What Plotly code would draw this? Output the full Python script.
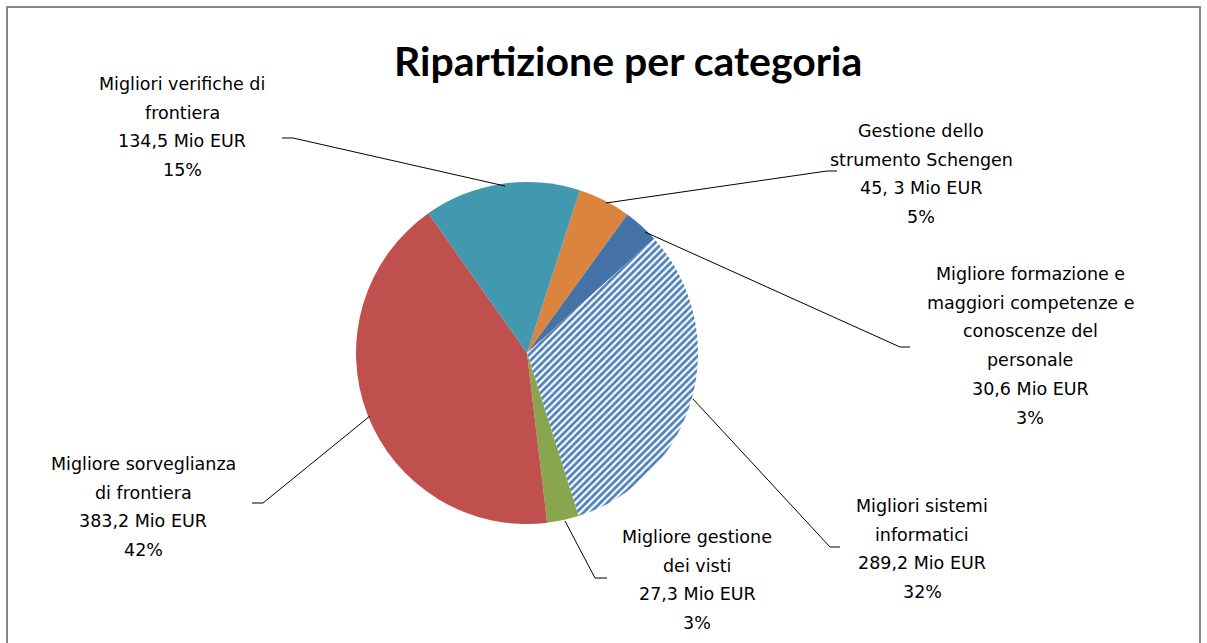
import plotly.graph_objects as go

W, H = 1207, 643

# ── Data ──────────────────────────────────────────────────────────────
categories = [
    ["Gestione dello", "strumento Schengen"],
    ["Migliore formazione e", "maggiori competenze e", "conoscenze del", "personale"],
    ["Migliori sistemi", "informatici"],
    ["Migliore gestione", "dei visti"],
    ["Migliore sorveglianza", "di frontiera"],
    ["Migliori verifiche di", "frontiera"],
]
values = [45.3, 30.6, 289.2, 27.3, 383.2, 134.5]
value_labels = ["45, 3 Mio EUR", "30,6 Mio EUR", "289,2 Mio EUR",
                "27,3 Mio EUR", "383,2 Mio EUR", "134,5 Mio EUR"]
colors = ["#DB843D", "#4572A7", "#4F81BD", "#89A54E", "#C0504D", "#4198AF"]
patterns = ["", "", "/", "", "", ""]

# label placement (pixel centre of first line) and leader lines (pixels)
label_pos = [(921, 131), (1030, 274), (922, 506), (697, 537), (143, 464), (182, 84)]
leaders = [
    [(606, 203), (827, 171), (837, 171)],
    [(645, 232), (900, 347), (910, 347)],
    [(693, 399), (830, 547), (840, 547)],
    [(565, 521), (595, 578), (607, 578)],
    [(370, 416), (263, 503), (252, 503)],
    [(505, 186), (293, 138), (282, 138)],
]
LINE_STEP = 28.7


def px(x):
    return x / W


def py(y):
    return 1 - y / H


total = sum(values)

fig = go.Figure(go.Pie(
    labels=[" ".join(c) for c in categories],
    values=values,
    sort=False,
    direction="clockwise",
    rotation=18,
    textinfo="none",
    hoverinfo="label+value+percent",
    marker=dict(
        colors=colors,
        line=dict(width=0),
        pattern=dict(shape=patterns, fgcolor="#4F81BD", bgcolor="white",
                     size=5, solidity=0.55),
    ),
    domain=dict(x=[px(356), px(698)], y=[py(524), py(182)]),
    showlegend=False,
))

annotations = []
for cat, val, vlab, (cx, cy) in zip(categories, values, value_labels, label_pos):
    lines = cat + [vlab, f"{round(val / total * 100)}%"]
    for i, line in enumerate(lines):
        annotations.append(dict(
            x=px(cx), y=py(cy + i * LINE_STEP), xref="paper", yref="paper",
            text=line, showarrow=False, xanchor="center", yanchor="middle",
            font=dict(family="DejaVu Sans", size=17.5, color="#000000"),
        ))

annotations.append(dict(
    x=px(628), y=py(60), xref="paper", yref="paper",
    text="<b>Ripartizione per categoria</b>", showarrow=False,
    xanchor="center", yanchor="middle",
    font=dict(family="Lato", size=41, color="#000000"),
))

shapes = [dict(
    type="rect", xref="paper", yref="paper",
    x0=px(7), x1=px(1200), y0=py(7), y1=py(660),
    line=dict(color="#868686", width=2),
)]
for pts in leaders:
    path = "M " + " L ".join(f"{px(x)},{py(y)}" for x, y in pts)
    shapes.append(dict(type="path", xref="paper", yref="paper", path=path,
                       line=dict(color="#000000", width=1)))

fig.update_layout(
    width=W, height=H,
    margin=dict(l=0, r=0, t=0, b=0),
    paper_bgcolor="white",
    plot_bgcolor="white",
    annotations=annotations,
    shapes=shapes,
)

fig.write_html(
    "out.html",
    config={"displayModeBar": False},
    post_script="document.body.style.margin='0';document.body.style.overflow='hidden';",
)
